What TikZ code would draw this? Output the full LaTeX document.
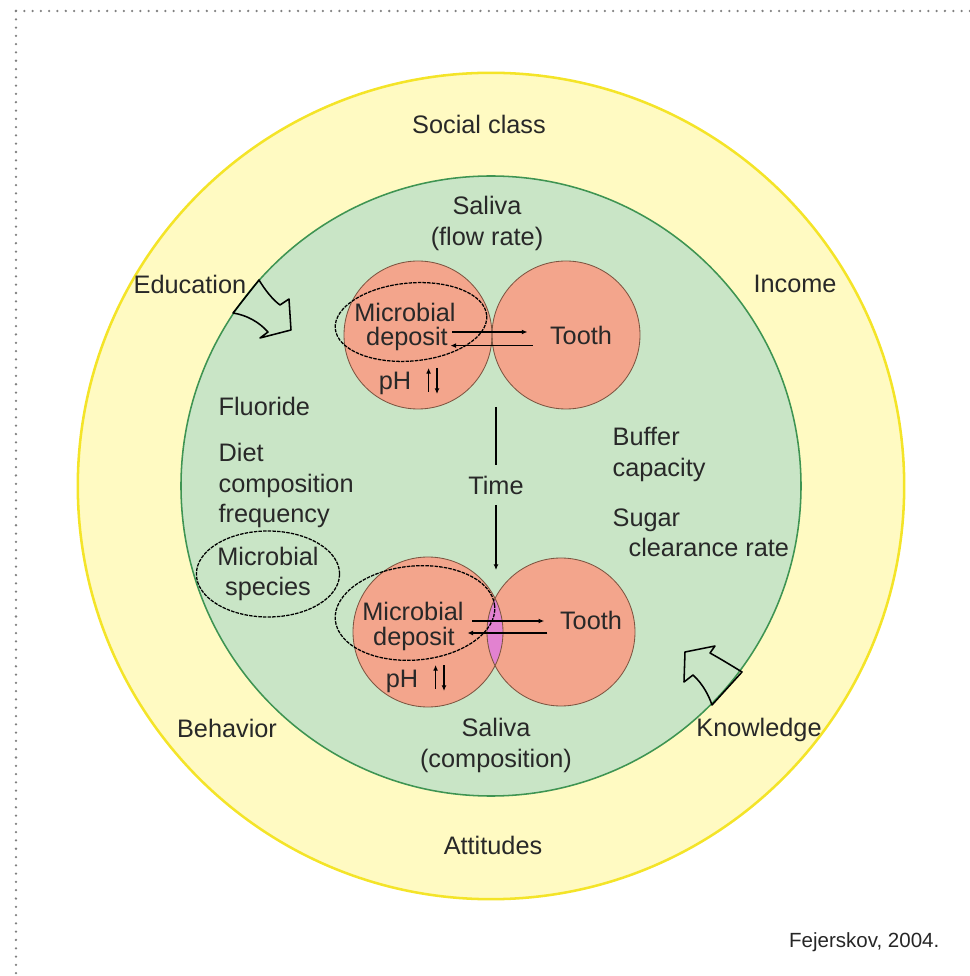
\documentclass[tikz,border=0pt]{standalone}
\usepackage{fontspec}
\setmainfont{Liberation Sans}
\usetikzlibrary{arrows.meta,shapes.geometric}

\definecolor{outerfill}{RGB}{255,250,194}
\definecolor{outerline}{RGB}{244,228,40}
\definecolor{innerfill}{RGB}{201,229,198}
\definecolor{innerline}{RGB}{62,148,82}
\definecolor{salmon}{RGB}{243,165,140}
\definecolor{salmonline}{RGB}{125,85,65}
\definecolor{lens}{RGB}{226,130,208}
\definecolor{ink}{RGB}{40,40,40}

\begin{document}
\begin{tikzpicture}[line width=0.9pt,>={Latex[length=4pt,width=3.5pt]},
  every node/.style={inner sep=0pt,text=ink,font=\fontsize{18}{21.5}\selectfont},
  circled/.style={draw=black,line width=0.9pt,dash pattern=on 2.5pt off 0.8pt},
  hollow/.style={draw=black,line width=1.1pt,line join=round}]
  \useasboundingbox (-12.275,-12.25) rectangle (11.95,12.15);

  % dotted frame, open on the right and at the bottom
  \coordinate (corner) at (-11.875,11.875);
  \draw[gray,line width=1.8pt,line cap=round,dash pattern=on 0pt off 5.9pt] (corner) -- (-11.875,-13);
  \draw[gray,line width=1.8pt,line cap=round,dash pattern=on 0pt off 5.9pt] (corner) -- (13,11.875);

  % outer and inner rings
  \draw[outerline,line width=1.8pt,fill=outerfill] (0,0) circle (10.33);
  \draw[innerline,line width=1.1pt,fill=innerfill] (0,0) circle (7.75);

  % plaque / tooth discs, the lower pair overlapping
  \coordinate (plaque1) at (-1.825,3.775);
  \coordinate (enamel1) at (1.875,3.775);
  \coordinate (plaque2) at (-1.575,-3.65);
  \coordinate (enamel2) at (1.75,-3.65);
  \foreach \c/\r in {plaque1/1.85,enamel1/1.85,plaque2/1.875,enamel2/1.85}
    \fill[salmon] (\c) circle (\r);
  \begin{scope}
    \clip (plaque2) circle (1.875);
    \fill[lens] (enamel2) circle (1.85);
  \end{scope}
  \foreach \c/\r in {plaque1/1.85,enamel1/1.85,plaque2/1.875,enamel2/1.85}
    \draw[salmonline,line width=0.6pt] (\c) circle (\r);

  % outer ring labels
  \node (social) at (-0.3,9.05) {Social class};
  \node (education) at (-7.525,5.05) {Education};
  \node (income) at (7.6,5.05) {Income};
  \node (behavior) at (-6.6,-6.05) {Behavior};
  \node (knowledge) at (6.7,-6.1) {Knowledge};
  \node (attitudes) at (0.05,-8.975) {Attitudes};

  % inner ring labels
  \node[anchor=north,align=center] (saliva1) at (-0.1,7.25) {Saliva\\(flow rate)};
  \node[anchor=north,align=center] (saliva2) at (0.125,-5.8) {Saliva\\(composition)};
  \node[anchor=north west] (fluoride) at (-6.825,2.225) {Fluoride};
  \node[anchor=north west,align=left] (diet) at (-6.825,1.075) {Diet\\composition\\frequency};
  \node[ellipse,circled,minimum width=3.5cm,minimum height=2.15cm,align=center] (species) at (-5.575,-2.2) {Microbial\\species};
  \node[anchor=north west,align=left] (buffer) at (3.025,1.475) {Buffer\\capacity};
  \node[anchor=north west,align=left] (sugar) at (3.025,-0.55) {Sugar\\\hspace*{4mm}clearance rate};

  % upper pair
  \node[anchor=base] (microbe1) at (-2.15,4.12) {Microbial};
  \node[anchor=base] (dep1) at (-2.1,3.5) {deposit};
  \node[anchor=base] (ph1) at (-2.4,2.4) {pH};
  \node (tooth1) at (2.25,3.775) {Tooth};
  \draw[circled,rotate around={5:(-2,4.1)}] (-2,4.1) ellipse (1.9 and 0.975);
  \draw[->,shorten <=1mm,shorten >=5.5mm] ([yshift=3.5mm]dep1.base east) -- ([yshift=3.5mm]dep1.base east -| tooth1.west);
  \draw[->,shorten <=4.2mm,shorten >=0.5mm] ([yshift=0.1mm]dep1.base east -| tooth1.west) -- ([yshift=0.1mm]dep1.base east);

  % lower pair
  \node[anchor=base] (microbe2) at (-1.95,-3.35) {Microbial};
  \node[anchor=base] (dep2) at (-1.925,-3.975) {deposit};
  \node[anchor=base] (ph2) at (-2.225,-5.025) {pH};
  \node (tooth2) at (2.5,-3.35) {Tooth};
  \draw[circled,rotate around={5:(-1.9,-3.175)}] (-1.9,-3.175) ellipse (2.0 and 1.175);
  \draw[->,shorten <=4.2mm,shorten >=3.8mm] ([yshift=6mm]dep2.base east) -- ([yshift=6mm]dep2.base east -| tooth2.west);
  \draw[->,shorten <=3mm,shorten >=3mm] ([yshift=3mm]dep2.base east -| tooth2.west) -- ([yshift=3mm]dep2.base east);

  % pH up/down
  \foreach \p in {ph1,ph2} {
    \draw[->,line width=0.8pt] ([xshift=4.2mm,yshift=-0.5mm]\p.base east) -- ([xshift=4.2mm,yshift=5.5mm]\p.base east);
    \draw[->,line width=0.8pt] ([xshift=6.3mm,yshift=5.5mm]\p.base east) -- ([xshift=6.3mm,yshift=-1mm]\p.base east);
  }

  % time
  \node[inner sep=2.5mm] (time) at (0.125,0.025) {Time};
  \coordinate (split) at (0.125,1.975);
  \coordinate (arrival) at (0.125,-2.1);
  \draw (split) -- (time);
  \draw[->] (time) -- (arrival);

  % block arrows entering the inner ring
  \draw[hollow] (-5.8,5.15) .. controls (-5.65,4.9) and (-5.45,4.65) .. (-5.275,4.525)
    -- (-5.05,4.675) -- (-5.0,3.9) -- (-5.775,3.7) -- (-5.575,3.85)
    .. controls (-5.8,4.1) and (-6.1,4.27) .. (-6.45,4.325) -- cycle;
  \draw[hollow] (6.275,-4.65) .. controls (5.95,-4.45) and (5.7,-4.3) .. (5.475,-4.175)
    -- (5.6,-4.0) -- (4.85,-4.15) -- (4.825,-4.9) -- (5.05,-4.725)
    .. controls (5.3,-4.95) and (5.45,-5.25) .. (5.525,-5.475) -- cycle;

  \node[anchor=east,text=black!85,font=\fontsize{14.6}{17}\selectfont] (cite) at (11.225,-11.4) {Fejerskov, 2004.};
\end{tikzpicture}
\end{document}
